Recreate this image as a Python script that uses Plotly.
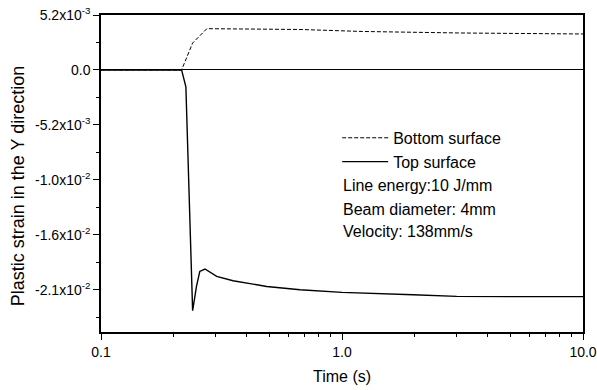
import plotly.graph_objects as go

# Data
top_t = [0.1, 0.216, 0.225, 0.240, 0.249, 0.257, 0.270, 0.302, 0.353, 0.487, 0.67, 1.0, 1.97, 2.99, 5.0, 10.0]
top_y = [0.0, 0.0, -0.0016, -0.02279, -0.02049, -0.01907, -0.01884, -0.01954, -0.01995, -0.02049,
         -0.0208, -0.02105, -0.02127, -0.02143, -0.02145, -0.02145]

bot_t = [0.1, 0.216, 0.240, 0.275, 0.67, 1.22, 3.09, 10.0]
bot_y = [0.0, 0.0, 0.00255, 0.003905, 0.00383, 0.00364, 0.003498, 0.003404]

ytick_vals = [0.0052, 0.0, -0.0052, -0.0104, -0.0156, -0.0208]
ytick_text = ["5.2x10<sup>-3</sup>", "0.0", "-5.2x10<sup>-3</sup>", "-1.0x10<sup>-2</sup>",
              "-1.6x10<sup>-2</sup>", "-2.1x10<sup>-2</sup>"]
yminor_vals = [0.0026, -0.0026, -0.0078, -0.013, -0.0182, -0.0234]
xtick_vals = [0.1, 1.0, 10.0]
xtick_text = ["0.1", "1.0", "10.0"]

info_lines = ["Line energy:10 J/mm", "Beam diameter: 4mm", "Velocity: 138mm/s"]

font_family = "Liberation Sans, Arial, sans-serif"

fig = go.Figure()
fig.add_trace(go.Scatter(x=bot_t, y=bot_y, mode="lines", name="Bottom surface",
                         line=dict(color="black", width=1, dash="4px,2px")))
fig.add_trace(go.Scatter(x=top_t, y=top_y, mode="lines", name="Top surface",
                         line=dict(color="black", width=1.4)))

info_y = [0.4637, 0.388, 0.3155]
for txt, yy in zip(info_lines, info_y):
    fig.add_annotation(x=0.502, y=yy, xref="paper", yref="paper",
                       text=txt, showarrow=False, xanchor="left", yanchor="middle",
                       xshift=-2,
                       font=dict(size=16, color="black", family=font_family))

# y axis title placed as rotated annotation
fig.add_annotation(x=-0.172, y=0.46, xref="paper", yref="paper",
                   text="Plastic strain in the Y direction", textangle=-90,
                   showarrow=False, xanchor="center", yanchor="middle",
                   font=dict(size=18, color="black", family=font_family))

fig.update_layout(
    width=597, height=390,
    margin=dict(l=101, r=14, t=15, b=58),
    paper_bgcolor="white", plot_bgcolor="white",
    font=dict(family=font_family, color="black", size=14),
    legend=dict(x=0.49, y=0.666, xanchor="left", yanchor="top", itemwidth=46,
                bgcolor="rgba(0,0,0,0)", font=dict(size=16), tracegroupgap=0),
    showlegend=True,
)
fig.update_xaxes(type="log", range=[-1, 1], tickvals=xtick_vals, ticktext=xtick_text,
                 ticks="outside", ticklen=6, tickwidth=1, tickcolor="black",
                 minor=dict(ticks="outside", ticklen=3, tickcolor="black", dtick="D1"),
                 showline=True, linecolor="black", linewidth=1.5, mirror=True,
                 showgrid=False, zeroline=False, automargin=False,
                 tickfont=dict(size=14),
                 title=dict(text="Time (s)", font=dict(size=16), standoff=12))
fig.update_yaxes(range=[-0.0248, 0.0052], tickvals=ytick_vals, ticktext=ytick_text,
                 ticks="outside", ticklen=6, tickwidth=1, tickcolor="black",
                 minor=dict(ticks="outside", ticklen=3, tickcolor="black", tickvals=yminor_vals),
                 showline=True, linecolor="black", linewidth=1.5, mirror=True,
                 showgrid=False, zeroline=True, zerolinecolor="black", zerolinewidth=1,
                 automargin=False, tickfont=dict(size=14))

fig.write_html("out.html")
